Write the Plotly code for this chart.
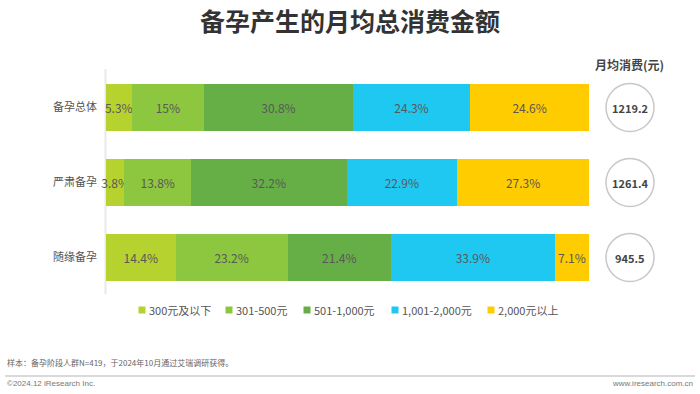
import plotly.graph_objects as go

categories = ["备孕总体", "严肃备孕", "随缘备孕"]
series_names = ["300元及以下", "301-500元", "501-1,000元", "1,001-2,000元", "2,000元以上"]
s1 = [5.3, 3.8, 14.4]
s2 = [15.0, 13.8, 23.2]
s3 = [30.8, 32.2, 21.4]
s4 = [24.3, 22.9, 33.9]
s5 = [24.6, 27.3, 7.1]
avg_spend = ["1219.2", "1261.4", "945.5"]
colors = ["#b5d22f", "#8dc63f", "#66ae46", "#1fc8f0", "#ffcc00"]

FONT = "Noto Sans CJK SC, Microsoft YaHei, sans-serif"
LATIN = "Liberation Sans, Arial, sans-serif"

W, H = 700, 394
L, R, T, B = 106, 111, 70, 99
pw = W - L - R
ph = H - T - B


def px_x(x):
    return (x - L) / pw


def px_y(y):
    return (H - B - y) / ph


fig = go.Figure()
for name, vals, col in zip(series_names, [s1, s2, s3, s4, s5], colors):
    fig.add_trace(go.Bar(
        y=categories, x=vals, name=name, orientation="h",
        marker=dict(color=col, line=dict(width=0)),
        text=[f"{v:g}%" for v in vals],
        textposition="inside", insidetextanchor="middle", textangle=0,
        textfont=dict(color="#595959", size=12, family=FONT),
        cliponaxis=False, hoverinfo="skip", showlegend=False,
    ))

shapes = []
annotations = []

# circles with average spend
cx = px_x(630)
rx = 24 / pw
ry = 24 / (ph / len(categories))
for i, (cat, val) in enumerate(zip(categories, avg_spend)):
    shapes.append(dict(type="circle", xref="paper", yref="y",
                       x0=cx - rx, x1=cx + rx, y0=i - ry, y1=i + ry,
                       line=dict(color="#c8c8c8", width=1.5), fillcolor="white", layer="above"))
    annotations.append(dict(x=cx, y=cat, xref="paper", yref="y", text=f"<b>{val}</b>",
                            xanchor="center", yanchor="middle",
                            showarrow=False, font=dict(size=11, color="#444444", family=FONT)))

annotations.append(dict(x=px_x(629), y=px_y(64), xref="paper", yref="paper", text="<b>月均消费(元)</b>",
                        xanchor="center", yanchor="middle",
                        showarrow=False, font=dict(size=12, color="#444444", family=FONT)))

# manual legend
leg_x = [142, 229, 307, 395, 491]
for xpos, name, col in zip(leg_x, series_names, colors):
    shapes.append(dict(type="rect", xref="paper", yref="paper",
                       x0=px_x(xpos - 3.5), x1=px_x(xpos + 3.5), y0=px_y(313.5), y1=px_y(306.5),
                       line=dict(width=0), fillcolor=col))
    annotations.append(dict(x=px_x(xpos + 5), y=px_y(310), xref="paper", yref="paper", text=name,
                            xanchor="left", yanchor="middle", showarrow=False,
                            font=dict(size=11, color="#555555", family=FONT)))

# footer
annotations.append(dict(x=px_x(5), y=px_y(362), xref="paper", yref="paper",
                        text="样本：备孕阶段人群N=419，于2024年10月通过艾瑞调研获得。",
                        showarrow=False, font=dict(size=8, color="#666666", family=FONT),
                        xanchor="left", yanchor="middle"))
annotations.append(dict(x=px_x(5), y=px_y(383), xref="paper", yref="paper", text="©2024.12 iResearch Inc.",
                        showarrow=False, font=dict(size=8, color="#777777", family=LATIN),
                        xanchor="left", yanchor="middle"))
annotations.append(dict(x=px_x(695), y=px_y(383), xref="paper", yref="paper", text="www.iresearch.com.cn",
                        showarrow=False, font=dict(size=8, color="#777777", family=LATIN),
                        xanchor="right", yanchor="middle"))
shapes.append(dict(type="line", xref="paper", yref="paper", x0=px_x(5), x1=px_x(695),
                   y0=px_y(376), y1=px_y(376), line=dict(color="#d9d9d9", width=2)))
shapes.append(dict(type="line", xref="paper", yref="paper", x0=px_x(105.5), x1=px_x(105.5),
                   y0=px_y(69), y1=px_y(294), line=dict(color="#e8e8e8", width=2), layer="below"))

fig.update_layout(
    width=W, height=H,
    margin=dict(l=L, r=R, t=T, b=B, autoexpand=False),
    barmode="stack", bargap=0.373,
    plot_bgcolor="white", paper_bgcolor="white",
    font=dict(family=FONT, color="#555555"),
    title=dict(text="<b>备孕产生的月均总消费金额</b>", x=0.5, xref="container", xanchor="center",
               y=1 - 22 / H, yanchor="middle", yref="container",
               font=dict(size=25, color="#333333", family=FONT)),
    xaxis=dict(range=[0, 100], showgrid=False, showticklabels=False, zeroline=False,
               showline=False, fixedrange=True, automargin=False),
    yaxis=dict(range=[2.5, -0.5], showgrid=False, zeroline=False, showline=False, automargin=False,
               fixedrange=True,
               tickfont=dict(size=11, color="#555555", family=FONT), ticks="", ticklabelstandoff=8),
    uniformtext=dict(minsize=12, mode="show"),
    hovermode=False,
    shapes=shapes, annotations=annotations,
    showlegend=False,
)

fig.write_html("out.html", config={"displayModeBar": False},
               post_script="document.body.style.margin='0';document.body.style.padding='0';")
